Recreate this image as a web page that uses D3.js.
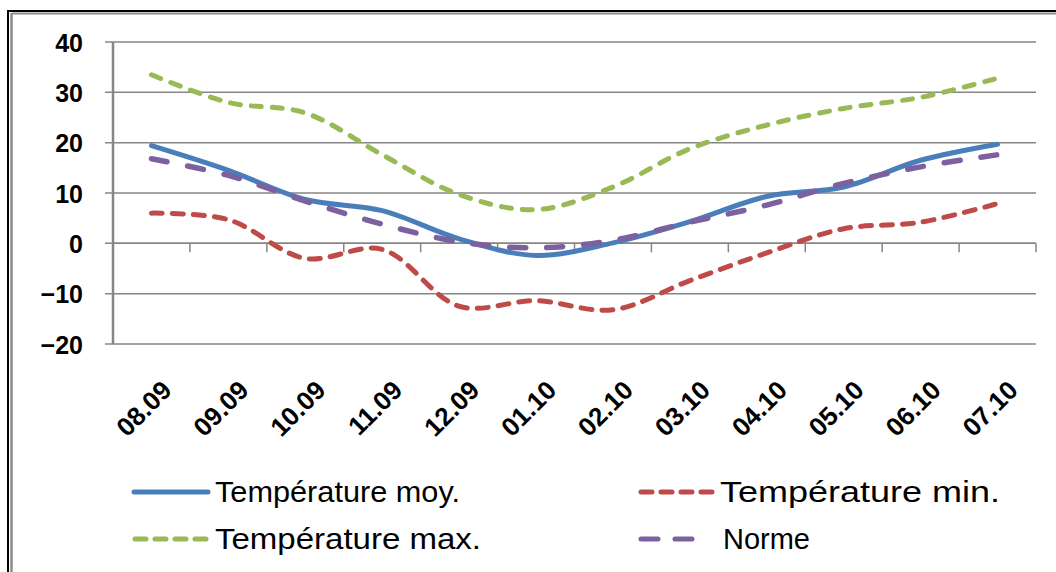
<!DOCTYPE html>
<html>
<head>
<meta charset="utf-8">
<script src="https://cdn.jsdelivr.net/npm/d3@7"></script>
<style>
  html, body { margin: 0; padding: 0; background: #ffffff; }
  svg { display: block; }
</style>
</head>
<body>
<svg id="chart" width="1056" height="572"></svg>
<script>
// ---- data ----
const categories = ["08.09","09.09","10.09","11.09","12.09","01.10","02.10","03.10","04.10","05.10","06.10","07.10"];
const tempMoy   = [19.4, 14.5, 8.7, 6.5, 0.9, -2.4, 0.1, 4.3, 9.3, 11.2, 16.5, 19.7];
const tempMin   = [6.0, 4.7, -3.0, -1.2, -12.5, -11.4, -13.2, -7.4, -1.9, 2.9, 4.2, 7.9];
const tempMax   = [33.5, 28.0, 25.9, 17.6, 9.7, 6.7, 11.2, 18.8, 23.5, 26.8, 29.0, 32.8];
const norme     = [16.8, 13.5, 8.4, 3.8, 0.3, -0.9, 0.6, 4.2, 7.6, 11.9, 15.2, 17.6];
const yTicks    = [-20, -10, 0, 10, 20, 30, 40];
const seriesNames = ["Température moy.", "Température min.", "Température max.", "Norme"];

(function () {
const series = [
  { name: seriesNames[0], values: tempMoy, color: "#4a7ebb", width: 5, dash: null, cap: "round" },
  { name: seriesNames[1], values: tempMin, color: "#be4b48", width: 5, dash: "11,10", cap: "round" },
  { name: seriesNames[2], values: tempMax, color: "#98b954", width: 5, dash: "10,11", cap: "round" },
  { name: seriesNames[3], values: norme,   color: "#7d60a0", width: 5.5, dash: "16,21", cap: "round" }
];

const svg = d3.select("#chart");

// frame
svg.append("line").attr("x1", 8).attr("x2", 1056).attr("y1", 11).attr("y2", 11).attr("stroke", "#000").attr("stroke-width", 2);
svg.append("line").attr("x1", 8).attr("x2", 8).attr("y1", 10).attr("y2", 572).attr("stroke", "#000").attr("stroke-width", 2);
svg.append("line").attr("x1", 11.5).attr("x2", 1056).attr("y1", 13.5).attr("y2", 13.5).attr("stroke", "#8c8c8c").attr("stroke-width", 2);
svg.append("line").attr("x1", 11.5).attr("x2", 11.5).attr("y1", 13).attr("y2", 572).attr("stroke", "#8c8c8c").attr("stroke-width", 2.5);

const pLeft = 113, pRight = 1036, pTop = 42, pBottom = 344;
const x = d3.scaleBand().domain(categories).range([pLeft, pRight]).paddingInner(0).paddingOuter(0);
const y = d3.scaleLinear().domain([-20, 40]).range([pBottom, pTop]);
const cx = c => x(c) + x.bandwidth() / 2;

const gridColor = "#868686";

// gridlines
svg.append("g").selectAll("line").data(yTicks).join("line")
  .attr("x1", pLeft - 8).attr("x2", pRight)
  .attr("y1", d => y(d)).attr("y2", d => y(d))
  .attr("stroke", gridColor).attr("stroke-width", 1.5);

// y axis labels
const yAxis = d3.axisLeft(y).tickValues(yTicks).tickSize(0).tickPadding(30).tickFormat(d3.format("d"));
const gy = svg.append("g").attr("transform", `translate(${pLeft},0)`).call(yAxis);
gy.select(".domain").remove();
gy.selectAll("text")
  .attr("font-family", "Liberation Sans, Arial, sans-serif")
  .attr("font-weight", "bold")
  .attr("font-size", 25)
  .attr("fill", "#000")
  .attr("dy", "0.36em");

// y axis line
svg.append("line").attr("x1", pLeft).attr("x2", pLeft).attr("y1", pTop).attr("y2", pBottom)
  .attr("stroke", gridColor).attr("stroke-width", 2.5);

// x axis line at zero + tick marks on category boundaries
svg.append("line").attr("x1", pLeft).attr("x2", pRight).attr("y1", y(0)).attr("y2", y(0))
  .attr("stroke", gridColor).attr("stroke-width", 1.5);
const boundaries = categories.slice(1).map(c => x(c)).concat([x.range()[1]]);
svg.append("g").selectAll("line").data(boundaries).join("line")
  .attr("x1", d => d).attr("x2", d => d)
  .attr("y1", y(0)).attr("y2", y(0) + 9)
  .attr("stroke", gridColor).attr("stroke-width", 1.5);

// x labels (rotated)
svg.append("g").selectAll("text").data(categories).join("text")
  .attr("transform", c => `translate(${cx(c) + 9},${379}) rotate(-45)`)
  .attr("text-anchor", "end")
  .attr("font-family", "Liberation Sans, Arial, sans-serif")
  .attr("font-weight", "bold")
  .attr("font-size", 26)
  .attr("fill", "#000")
  .attr("dy", "0.7em")
  .text(c => c);

// lines
const lineGen = d3.line()
  .x((d, i) => cx(categories[i]))
  .y(d => y(d))
  .curve(d3.curveCatmullRom.alpha(0.5));

series.forEach(s => {
  svg.append("path")
    .datum(s.values)
    .attr("d", lineGen)
    .attr("fill", "none")
    .attr("stroke", s.color)
    .attr("stroke-width", s.width)
    .attr("stroke-linecap", s.cap)
    .attr("stroke-linejoin", "round")
    .attr("stroke-dasharray", s.dash);
});

// legend
const legendItems = [
  { s: series[0], lx: 134, lx2: 208, tx: 215, ty: 492, tw: 245, ldash: null },
  { s: series[1], lx: 641, lx2: 713, tx: 720, ty: 492, tw: 280, ldash: "11,9" },
  { s: series[2], lx: 135, lx2: 208, tx: 215, ty: 539, tw: 266, ldash: "11,9" },
  { s: series[3], lx: 641, lx2: 693, tx: 723, ty: 539, tw: 87, ldash: "17,17" }
];
legendItems.forEach(it => {
  svg.append("line")
    .attr("x1", it.lx).attr("x2", it.lx2).attr("y1", it.ty).attr("y2", it.ty)
    .attr("stroke", it.s.color).attr("stroke-width", 5)
    .attr("stroke-linecap", "round")
    .attr("stroke-dasharray", it.ldash);
  svg.append("text")
    .attr("x", it.tx).attr("y", it.ty)
    .attr("dy", "0.36em")
    .attr("font-family", "Liberation Sans Narrow, Liberation Sans, Arial, sans-serif")
    .attr("font-size", 29)
    .attr("fill", "#000")
    .attr("textLength", it.tw)
    .attr("lengthAdjust", "spacingAndGlyphs")
    .text(it.s.name);
});
})();
</script>
</body>
</html>
